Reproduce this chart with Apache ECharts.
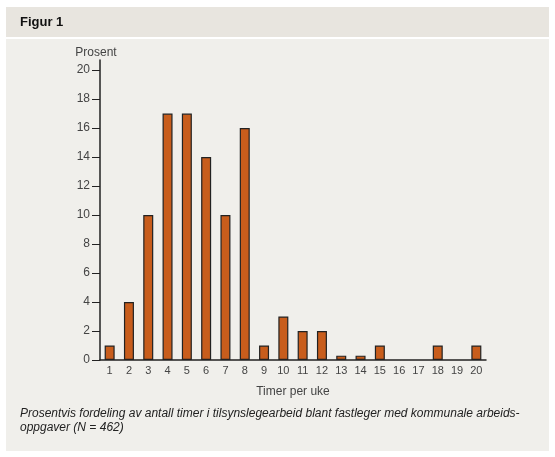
<!DOCTYPE html>
<html><head><meta charset="utf-8">
<script src="https://cdn.jsdelivr.net/npm/echarts@6/dist/echarts.min.js"></script>
<style>html,body{margin:0;padding:0;background:#fff}#c{width:555px;height:457px}</style>
</head><body><div id="c"></div>
<script>
const categories = ['1','2','3','4','5','6','7','8','9','10','11','12','13','14','15','16','17','18','19','20'];
const values = [1,4,10,17,17,14,10,16,1,3,2,2,0.3,0.3,1,0,0,1,0,1];
const yTicks = [0,2,4,6,8,10,12,14,16,18,20];
const titleText = 'Figur 1';
const yName = 'Prosent';
const xName = 'Timer per uke';
const captionLines = ['Prosentvis fordeling av antall timer i tilsynslegearbeid blant fastleger med kommunale arbeids-', 'oppgaver (N = 462)'];

const chart = echarts.init(document.getElementById('c'), null, {renderer:'canvas'});
const font = '"Liberation Sans", Arial, sans-serif';
chart.setOption({
  animation:false,
  backgroundColor:'#fff',
  graphic:[
    {type:'rect', z:-10, shape:{x:6,y:7,width:543,height:30}, style:{fill:'#e8e5df'}},
    {type:'rect', z:-10, shape:{x:6,y:39,width:543,height:412}, style:{fill:'#f0efeb'}},
    {type:'text', left:20, top:16, style:{text:titleText, font:'bold 13px '+font, fill:'#111'}},
    {type:'text', left:20, top:407, style:{text:captionLines.join('\n'), font:'italic 12px '+font, fill:'#222', lineHeight:14}}
  ],
  grid:{left:100, right:69, top:60, bottom:97},
  xAxis:{
    type:'category', data:categories,
    name:xName, nameLocation:'middle', nameGap:26,
    nameTextStyle:{fontFamily:font, fontSize:12, color:'#444'},
    axisLine:{lineStyle:{color:'#222', width:1.5}},
    axisTick:{show:false},
    axisLabel:{fontFamily:font, fontSize:11, color:'#444', margin:5, interval:0}
  },
  yAxis:{
    type:'value', min:0, max:20.7,
    name:yName, nameLocation:'end', nameGap:1,
    nameTextStyle:{fontFamily:font, fontSize:12, color:'#444', align:'center', padding:[0,0,0,-8]},
    axisLine:{show:true, lineStyle:{color:'#222', width:1.5}},
    axisTick:{show:true, length:8, customValues:yTicks, lineStyle:{color:'#222', width:1}},
    axisLabel:{fontFamily:font, fontSize:12, color:'#444', margin:10, customValues:yTicks},
    splitLine:{show:false}
  },
  series:[{
    type:'bar', data:values.map(v => v === 0 ? {value:v, itemStyle:{borderWidth:0}} : v), barWidth:10,
    itemStyle:{color:'#c85d1c', borderColor:'#222', borderWidth:1.2}
  }]
});
</script></body></html>
